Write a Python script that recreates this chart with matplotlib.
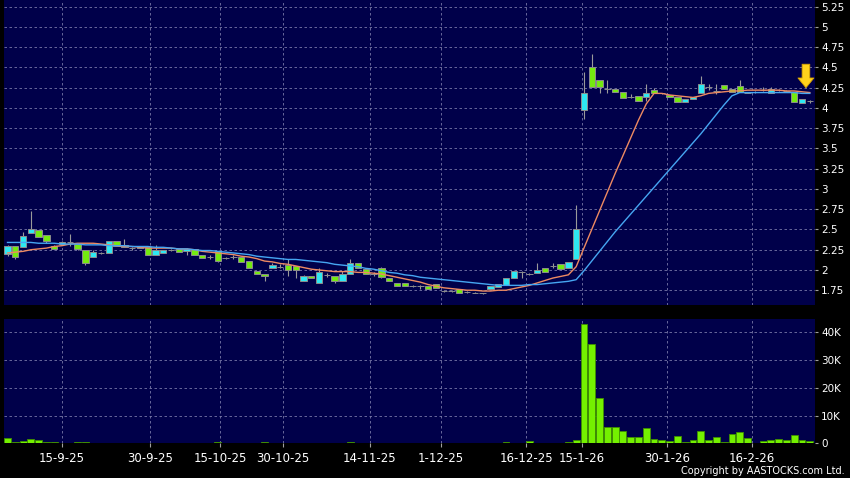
import numpy as np
import matplotlib
matplotlib.use('Agg')
import matplotlib.pyplot as plt
from matplotlib.ticker import FuncFormatter

# ---- data (one entry per trading bar) ----
opens = [2.20, 2.30, 2.28, 2.46, 2.49, 2.43, 2.30, 2.32, 2.35, 2.32,
         2.25, 2.16, 2.21, 2.21, 2.36, 2.31, 2.27, 2.27, 2.28, 2.19,
         2.21, 2.25, 2.26, 2.23, 2.26, 2.18, 2.16, 2.23, 2.15, 2.16,
         2.16, 2.11, 1.99, 1.95, 2.03, 2.04, 2.06, 2.05, 1.86, 1.93,
         1.84, 1.94, 1.93, 1.86, 1.95, 2.08, 2.01, 1.95, 2.03, 1.90,
         1.84, 1.84, 1.80, 1.80, 1.80, 1.83, 1.74, 1.74, 1.76, 1.73,
         1.72, 1.71, 1.76, 1.79, 1.81, 1.90, 1.98, 1.95, 1.96, 2.03,
         2.05, 2.07, 2.02, 2.14, 3.98, 4.50, 4.35, 4.24, 4.24, 4.20,
         4.14, 4.15, 4.14, 4.22, 4.18, 4.16, 4.13, 4.07, 4.11, 4.18,
         4.26, 4.21, 4.28, 4.24, 4.27, 4.19, 4.20, 4.22, 4.19, 4.22,
         4.21, 4.20, 4.06, 4.08]
highs = [2.31, 2.30, 2.47, 2.73, 2.49, 2.43, 2.31, 2.36, 2.44, 2.32,
         2.25, 2.25, 2.22, 2.36, 2.36, 2.38, 2.28, 2.30, 2.28, 2.31,
         2.25, 2.26, 2.26, 2.27, 2.26, 2.18, 2.19, 2.23, 2.16, 2.19,
         2.16, 2.11, 1.99, 1.95, 2.08, 2.07, 2.14, 2.05, 1.94, 1.93,
         2.02, 1.96, 1.93, 1.99, 2.14, 2.08, 2.01, 1.97, 2.04, 1.90,
         1.84, 1.84, 1.81, 1.81, 1.80, 1.83, 1.75, 1.75, 1.76, 1.74,
         1.73, 1.72, 1.80, 1.83, 1.90, 1.99, 1.99, 1.96, 2.08, 2.03,
         2.08, 2.07, 2.10, 2.80, 4.45, 4.67, 4.35, 4.35, 4.24, 4.20,
         4.17, 4.15, 4.29, 4.25, 4.19, 4.16, 4.13, 4.11, 4.14, 4.40,
         4.30, 4.30, 4.28, 4.24, 4.35, 4.20, 4.21, 4.26, 4.26, 4.23,
         4.22, 4.20, 4.11, 4.10]
lows = [2.17, 2.14, 2.28, 2.46, 2.41, 2.33, 2.26, 2.32, 2.29, 2.25,
        2.06, 2.16, 2.20, 2.21, 2.29, 2.28, 2.25, 2.27, 2.19, 2.19,
        2.21, 2.24, 2.22, 2.19, 2.18, 2.15, 2.13, 2.10, 2.14, 2.13,
        2.10, 2.02, 1.95, 1.86, 2.03, 2.03, 1.92, 1.90, 1.86, 1.90,
        1.84, 1.91, 1.84, 1.86, 1.95, 2.03, 1.95, 1.92, 1.90, 1.86,
        1.80, 1.80, 1.79, 1.76, 1.76, 1.78, 1.73, 1.73, 1.71, 1.72,
        1.71, 1.70, 1.76, 1.79, 1.81, 1.90, 1.90, 1.94, 1.96, 1.98,
        2.02, 2.01, 2.02, 2.14, 3.86, 4.26, 4.18, 4.18, 4.20, 4.12,
        4.12, 4.09, 4.08, 4.18, 4.17, 4.13, 4.07, 4.07, 4.11, 4.18,
        4.22, 4.17, 4.23, 4.20, 4.20, 4.18, 4.19, 4.21, 4.19, 4.21,
        4.20, 4.07, 4.06, 4.06]
closes = [2.30, 2.16, 2.42, 2.50, 2.41, 2.36, 2.26, 2.35, 2.35, 2.26,
          2.08, 2.22, 2.21, 2.36, 2.29, 2.28, 2.27, 2.29, 2.19, 2.25,
          2.25, 2.25, 2.22, 2.26, 2.18, 2.15, 2.16, 2.11, 2.15, 2.16,
          2.10, 2.02, 1.95, 1.92, 2.06, 2.04, 2.00, 2.00, 1.93, 1.90,
          1.97, 1.94, 1.87, 1.95, 2.08, 2.03, 1.95, 1.95, 1.91, 1.86,
          1.80, 1.80, 1.80, 1.80, 1.76, 1.78, 1.74, 1.74, 1.71, 1.73,
          1.72, 1.71, 1.80, 1.83, 1.90, 1.99, 1.98, 1.95, 2.00, 1.98,
          2.05, 2.01, 2.10, 2.50, 4.19, 4.26, 4.26, 4.24, 4.20, 4.12,
          4.14, 4.09, 4.19, 4.18, 4.18, 4.13, 4.07, 4.11, 4.14, 4.29,
          4.26, 4.21, 4.23, 4.20, 4.20, 4.19, 4.20, 4.22, 4.23, 4.22,
          4.21, 4.07, 4.11, 4.08]
ma_short = [2.21, 2.22, 2.23, 2.25, 2.26, 2.27, 2.29, 2.30, 2.32, 2.33,
            2.33, 2.33, 2.32, 2.31, 2.30, 2.29, 2.29, 2.28, 2.27, 2.27,
            2.27, 2.27, 2.26, 2.26, 2.25, 2.23, 2.22, 2.21, 2.20, 2.19,
            2.17, 2.16, 2.14, 2.11, 2.10, 2.08, 2.07, 2.05, 2.03, 2.01,
            2.00, 1.99, 1.98, 1.98, 1.98, 1.97, 1.97, 1.96, 1.95, 1.93,
            1.91, 1.89, 1.87, 1.85, 1.82, 1.80, 1.78, 1.77, 1.76, 1.75,
            1.75, 1.74, 1.74, 1.75, 1.75, 1.77, 1.79, 1.81, 1.84, 1.87,
            1.90, 1.92, 1.94, 2.04, 2.27, 2.50, 2.73, 2.96, 3.19, 3.41,
            3.63, 3.85, 4.05, 4.18, 4.18, 4.16, 4.15, 4.14, 4.13, 4.15,
            4.18, 4.19, 4.20, 4.21, 4.21, 4.22, 4.22, 4.22, 4.22, 4.22,
            4.21, 4.21, 4.20, 4.19]
ma_long = [2.34, 2.34, 2.34, 2.34, 2.33, 2.33, 2.33, 2.32, 2.32, 2.32,
           2.31, 2.31, 2.31, 2.30, 2.30, 2.30, 2.29, 2.29, 2.29, 2.28,
           2.28, 2.27, 2.26, 2.26, 2.25, 2.24, 2.24, 2.23, 2.22, 2.21,
           2.20, 2.19, 2.17, 2.16, 2.15, 2.14, 2.13, 2.13, 2.12, 2.11,
           2.10, 2.09, 2.07, 2.06, 2.05, 2.04, 2.02, 2.01, 1.99, 1.97,
           1.96, 1.94, 1.93, 1.91, 1.90, 1.89, 1.88, 1.87, 1.86, 1.85,
           1.84, 1.83, 1.82, 1.81, 1.81, 1.81, 1.81, 1.82, 1.82, 1.83,
           1.84, 1.85, 1.86, 1.88, 1.99, 2.11, 2.23, 2.35, 2.47, 2.58,
           2.69, 2.80, 2.91, 3.02, 3.13, 3.24, 3.35, 3.46, 3.57, 3.68,
           3.80, 3.92, 4.04, 4.15, 4.19, 4.19, 4.19, 4.19, 4.19, 4.19,
           4.19, 4.19, 4.18, 4.18]
volume_k = [1.8, 0.4, 1.0, 1.6, 1.3, 0.5, 0.5, 0.3, 0.1, 0.5,
            0.5, 0.2, 0.1, 0.2, 0.2, 0.1, 0.1, 0.1, 0.1, 0.1,
            0.1, 0.1, 0.1, 0.1, 0.1, 0.1, 0.1, 0.4, 0.1, 0.1,
            0.1, 0.3, 0.1, 0.4, 0.1, 0.1, 0.1, 0.1, 0.2, 0.1,
            0.2, 0.1, 0.1, 0.3, 0.4, 0.3, 0.1, 0.2, 0.3, 0.1,
            0.1, 0.1, 0.1, 0.1, 0.1, 0.1, 0.1, 0.1, 0.1, 0.1,
            0.2, 0.1, 0.3, 0.2, 0.4, 0.1, 0.3, 1.0, 0.2, 0.3,
            0.3, 0.3, 0.5, 1.4, 42.8, 35.5, 16.3, 5.8, 6.0, 4.6,
            2.4, 2.4, 5.5, 1.6, 1.2, 1.0, 2.8, 0.7, 1.2, 4.5,
            1.2, 2.5, 0.6, 3.3, 4.0, 1.9, 0.2, 0.8, 1.3, 1.5,
            1.1, 3.0, 1.3, 1.0]
date_labels = ['15-9-25', '30-9-25', '15-10-25', '30-10-25', '14-11-25',
               '1-12-25', '16-12-25', '15-1-26', '30-1-26', '16-2-26']
date_pos = [7.0, 18.3, 27.3, 35.4, 46.5, 55.6, 66.6, 73.7, 84.7, 95.6]
price_ticks = [1.75, 2, 2.25, 2.5, 2.75, 3, 3.25, 3.5, 3.75, 4, 4.25, 4.5, 4.75, 5, 5.25]
vol_ticks = [0, 10, 20, 30, 40]

#---------------------STYLE---------------------#
BG = '#00004a'
GRID = '#7878a8'
UP = '#2ee8f2'
DOWN = '#74ea10'
EDGE = '#8c8c8c'

x = np.arange(len(opens))
o = np.array(opens)
c = np.array(closes)
up = c > o
colors = np.where(up, UP, np.where(c < o, DOWN, EDGE))

fig = plt.figure(figsize=(8.5, 4.78), dpi=100, facecolor='black')
ax1 = fig.add_axes([0.0047, 0.362, 0.9541, 0.638])
ax2 = fig.add_axes([0.0047, 0.0722, 0.9541, 0.2604])

for ax in (ax1, ax2):
    ax.set_facecolor(BG)
    for s in ax.spines.values():
        s.set_visible(False)
    ax.set_xlim(-0.45, 103.66)
    ax.set_xticks(date_pos)
    ax.yaxis.tick_right()
    ax.grid(True, color=GRID, linestyle=(0, (3, 3)), linewidth=0.6)
    ax.set_axisbelow(True)
    ax.tick_params(axis='y', colors='#a0a0a0', labelcolor='white', length=2.5,
                   width=0.8, pad=2, labelsize=7.5)

# price panel
ax1.vlines(x, lows, highs, color='#9a9a9a', linewidth=0.8, zorder=2)
ax1.bar(x, np.abs(c - o), bottom=np.minimum(o, c), width=0.82, color=colors,
        edgecolor=EDGE, linewidth=0.7, zorder=3)
ax1.plot(x, ma_short, color='#ee8a62', linewidth=1.0, zorder=4)
ax1.plot(x, ma_long, color='#46a6f2', linewidth=1.0, zorder=4)
ax1.set_ylim(1.568, 5.333)
ax1.set_yticks(price_ticks)
ax1.yaxis.set_major_formatter(FuncFormatter(lambda v, p: '%g' % v))
ax1.tick_params(axis='x', length=0, labelbottom=False)

# marker arrow on the last bars
ax1.annotate('', xy=(102.5, 4.25), xytext=(102.5, 4.54),
             arrowprops=dict(facecolor='#ffd21c', edgecolor='#d9a400', linewidth=0.6,
                             width=5.5, headwidth=11.5, headlength=7, shrink=0),
             zorder=6)

# volume panel
ax2.bar(x, volume_k, width=0.88, color='#74f000', edgecolor='#3f8f00',
        linewidth=0.6, zorder=3)
ax2.set_ylim(0, 44.6)
ax2.set_yticks(vol_ticks)
ax2.set_yticklabels(['0' if v == 0 else '%dK' % v for v in vol_ticks])
ax2.set_xticklabels(date_labels)
ax2.tick_params(axis='x', colors='#a0a0a0', labelcolor='white', length=3,
                width=0.8, pad=3, labelsize=8.5)

fig.text(0.994, 0.004, 'Copyright by AASTOCKS.com Ltd.', ha='right', va='bottom',
         color='white', fontsize=7)

fig.savefig('out.png', dpi=100, facecolor='black')
